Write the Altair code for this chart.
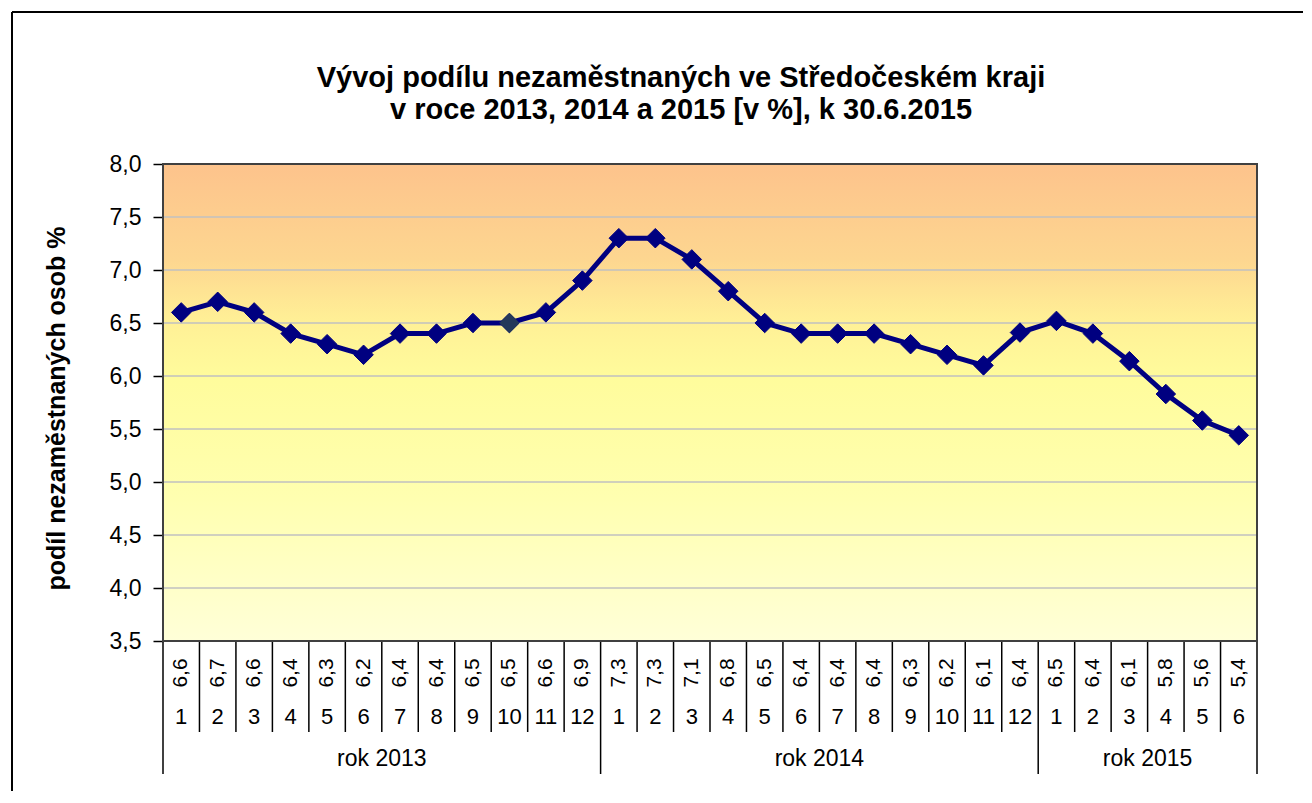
import altair as alt
import pandas as pd

# ---- data ----
months = [1, 2, 3, 4, 5, 6, 7, 8, 9, 10, 11, 12,
          1, 2, 3, 4, 5, 6, 7, 8, 9, 10, 11, 12,
          1, 2, 3, 4, 5, 6]
values = [6.6, 6.7, 6.6, 6.4, 6.3, 6.2, 6.4, 6.4, 6.5, 6.5, 6.6, 6.9,
          7.3, 7.3, 7.1, 6.8, 6.5, 6.4, 6.4, 6.4, 6.3, 6.2, 6.1, 6.41,
          6.52, 6.40, 6.14, 5.83, 5.58, 5.44]
value_labels = ["6,6", "6,7", "6,6", "6,4", "6,3", "6,2", "6,4", "6,4", "6,5", "6,5", "6,6", "6,9",
                "7,3", "7,3", "7,1", "6,8", "6,5", "6,4", "6,4", "6,4", "6,3", "6,2", "6,1", "6,4",
                "6,5", "6,4", "6,1", "5,8", "5,6", "5,4"]
years = ["rok 2013", "rok 2014", "rok 2015"]
year_start = [0, 12, 24]
year_end = [12, 24, 30]
y_ticks = [3.5, 4.0, 4.5, 5.0, 5.5, 6.0, 6.5, 7.0, 7.5, 8.0]

title_line1 = "Vývoj podílu nezaměstnaných ve Středočeském kraji"
title_line2 = "v roce 2013, 2014 a 2015 [v %], k 30.6.2015"
y_title = "podíl nezaměstnaných osob %"

W, H = 1094, 477
FONT = "Liberation Sans"

n = len(values)
df = pd.DataFrame({
    "i": list(range(n)),
    "pos": [k + 0.5 for k in range(n)],
    "v": values,
    "lab": value_labels,
    "m": [str(m) for m in months],
})
year_bounds = sorted(set(year_start + year_end))
df_sep = pd.DataFrame({"b": [k for k in range(n + 1) if k not in year_bounds]})
df_ysep = pd.DataFrame({"b": year_bounds})
df_year = pd.DataFrame({"name": years,
                        "c": [(s + e) / 2 for s, e in zip(year_start, year_end)]})
df_grid = pd.DataFrame({"t": y_ticks[1:-1]})
one = df_year.head(1)

xs = alt.Scale(domain=[0, n], nice=False, zero=False)
ys = alt.Scale(domain=[y_ticks[0], y_ticks[-1]], nice=False, zero=False)

grad = alt.LinearGradient(
    gradient="linear", x1=0, y1=0, x2=0, y2=1,
    stops=[alt.GradientStop(color="#FDC38C", offset=0),
           alt.GradientStop(color="#FDD690", offset=0.2),
           alt.GradientStop(color="#FFF096", offset=0.33),
           alt.GradientStop(color="#FFFC9C", offset=0.45),
           alt.GradientStop(color="#FFFFB0", offset=0.7),
           alt.GradientStop(color="#FFFFD8", offset=1)])

bg = alt.Chart(one).mark_rect(color=grad).encode(
    x=alt.value(0), x2=alt.value(W), y=alt.value(0), y2=alt.value(H))

grid = alt.Chart(df_grid).mark_rule(color="#C0C0C0", strokeWidth=1.5).encode(
    x=alt.value(0), x2=alt.value(W), y=alt.Y("t:Q", scale=ys))

base = alt.Chart(df)

line = base.mark_line(color="#000080", strokeWidth=5).encode(
    x=alt.X("pos:Q", scale=xs, axis=None),
    y=alt.Y("v:Q", scale=ys, title=y_title,
            axis=alt.Axis(values=y_ticks,
                          labelExpr="replace(format(datum.value, '.1f'), '.', ',')",
                          labelFontSize=23, labelColor="#000000", labelPadding=12,
                          labelFont=FONT,
                          domainColor="#000000", domainWidth=1.5,
                          tickColor="#000000", tickWidth=1.5, tickSize=10,
                          grid=False,
                          titleFontSize=25, titleFontWeight="bold", titleFont=FONT,
                          titleColor="#000000", titleAngle=270,
                          titleX=-107, titleY=244,
                          titleAlign="center", titleBaseline="middle")),
)

pts = base.mark_point(shape="diamond", filled=True, size=380, opacity=1,
                      color="#000080", stroke="#000080", strokeWidth=1).encode(
    x=alt.X("pos:Q", scale=xs), y=alt.Y("v:Q", scale=ys))

pt_odd = base.transform_filter(alt.datum.i == 9).mark_point(
    shape="diamond", filled=True, size=380, opacity=1,
    color="#24395A", stroke="#24395A", strokeWidth=1).encode(
    x=alt.X("pos:Q", scale=xs), y=alt.Y("v:Q", scale=ys))

val_txt = base.mark_text(angle=270, fontSize=21, font=FONT, color="#000000",
                         align="center", baseline="middle").encode(
    x=alt.X("pos:Q", scale=xs), y=alt.value(H + 32), text="lab:N")

mon_txt = base.mark_text(fontSize=22, font=FONT, color="#000000",
                         align="center", baseline="middle").encode(
    x=alt.X("pos:Q", scale=xs), y=alt.value(H + 76), text="m:N")

year_txt = alt.Chart(df_year).mark_text(fontSize=23, font=FONT, color="#000000",
                                        align="center", baseline="middle").encode(
    x=alt.X("c:Q", scale=xs), y=alt.value(H + 118), text="name:N")

sep = alt.Chart(df_sep).mark_rule(color="#000000", strokeWidth=1.5).encode(
    x=alt.X("b:Q", scale=xs), y=alt.value(H), y2=alt.value(H + 91))

ysep = alt.Chart(df_ysep).mark_rule(color="#000000", strokeWidth=1.5).encode(
    x=alt.X("b:Q", scale=xs), y=alt.value(H), y2=alt.value(H + 133))

border = alt.Chart(one).mark_rect(filled=False, stroke="#404040", strokeWidth=2).encode(
    x=alt.value(0), x2=alt.value(W), y=alt.value(0), y2=alt.value(H))

frame_top = alt.Chart(one).mark_rule(color="#000000", strokeWidth=2).encode(
    x=alt.value(-151), x2=alt.value(W + 60), y=alt.value(-152))
frame_left = alt.Chart(one).mark_rule(color="#000000", strokeWidth=2).encode(
    x=alt.value(-151), y=alt.value(-152), y2=alt.value(H + 200))

t1 = alt.Chart(one).mark_text(text=title_line1, fontSize=29, fontWeight="bold", font=FONT,
                              color="#000000", align="center", baseline="alphabetic").encode(
    x=alt.value(518), y=alt.value(-77))
t2 = alt.Chart(one).mark_text(text=title_line2, fontSize=29, fontWeight="bold", font=FONT,
                              color="#000000", align="center", baseline="alphabetic").encode(
    x=alt.value(518), y=alt.value(-45))

chart = alt.layer(
    bg, grid, line, pts, pt_odd, val_txt, mon_txt, year_txt, sep, ysep, border,
    frame_top, frame_left, t1, t2
).properties(
    width=W, height=H,
    autosize=alt.AutoSizeParams(type="none"),
    padding={"left": 155, "top": 156, "right": 46, "bottom": 150},
    background="#FFFFFF",
).configure_view(
    stroke=None,
)

chart.save("out.html", embed_options={"renderer": "svg", "actions": False})
